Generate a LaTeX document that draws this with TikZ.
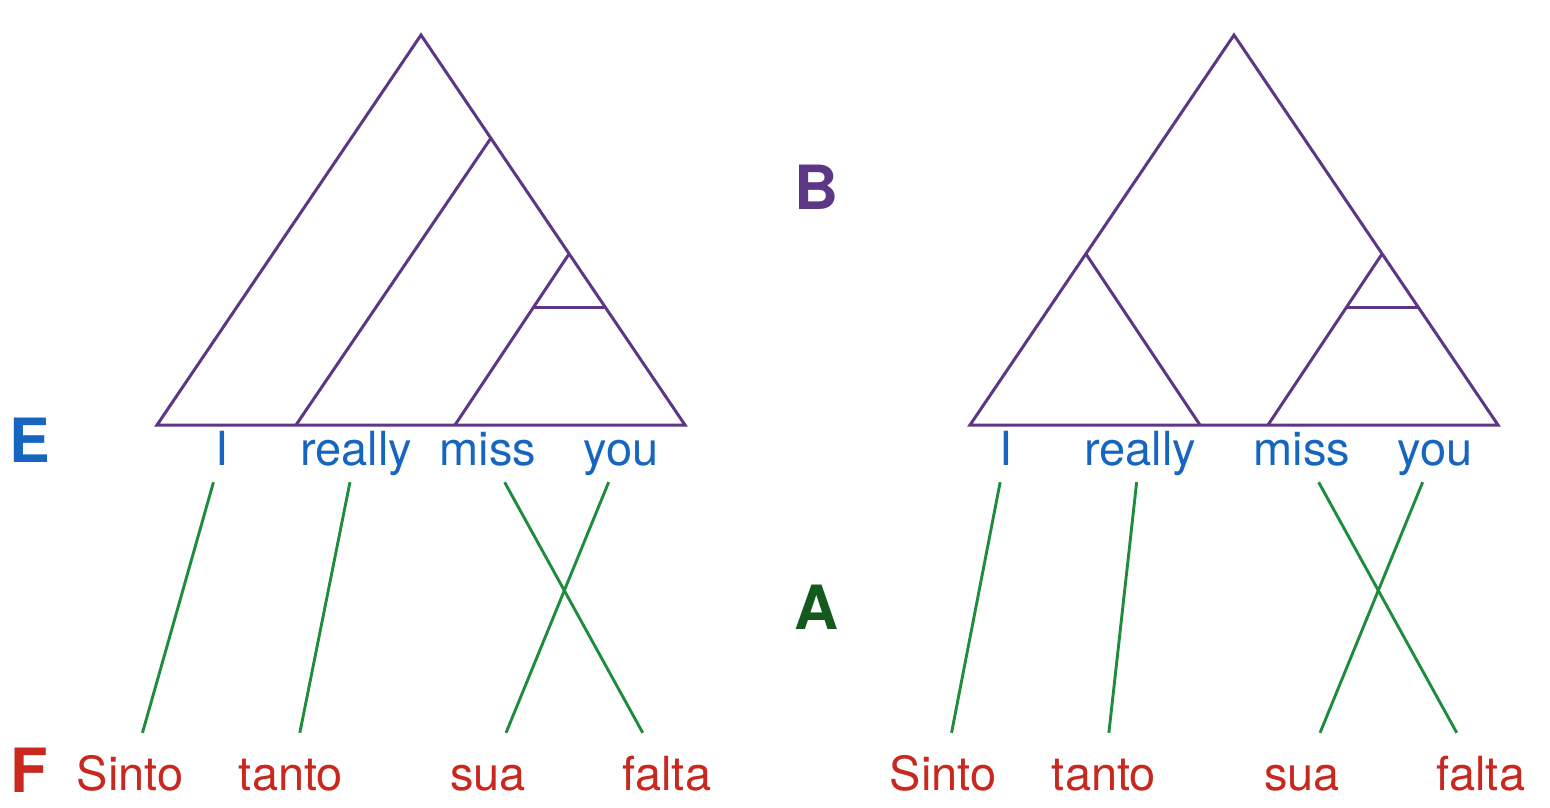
\documentclass[tikz,border=0pt]{standalone}
\usepackage{fontspec}
\setmainfont{TeX Gyre Heros}
\definecolor{treepurple}{RGB}{93,55,133}
\definecolor{wordblue}{RGB}{22,102,192}
\definecolor{transred}{RGB}{200,40,30}
\definecolor{linkgreen}{RGB}{30,140,60}
\definecolor{tagdkgreen}{RGB}{20,90,30}
\begin{document}
\begin{tikzpicture}[
  x=1pt, y=-1pt,
  every node/.style = {font=\fontsize{47}{50}\selectfont},
  tree/.style       = {draw=treepurple, line width=3pt, line join=miter},
  wrd/.style        = {text=wordblue, anchor=base, inner xsep=0pt,
                        inner ysep=7pt, text height=36pt, text depth=10pt,
                        minimum width=60pt},
  trans/.style      = {text=transred, anchor=base, inner xsep=0pt,
                        inner ysep=21pt, text height=36pt, text depth=10pt,
                        minimum width=60pt},
  link/.style       = {draw=linkgreen, line width=2.9pt},
  tag/.style        = {font=\fontsize{61}{64}\selectfont\bfseries},
]
\useasboundingbox (0,0) rectangle (1550,808);

% ── LEFT TREE ─────────────────────────────────────────────────────────────────
\draw[tree] (157,425) -- (421,35) -- (685,425) -- cycle;
\draw[tree] (491,138) -- (296,425);
\draw[tree] (569,254) -- (455,425);
\draw[tree] (533,307) -- (605,307);

% ── RIGHT TREE ────────────────────────────────────────────────────────────────
\begin{scope}[shift={(813,0)}]
  \draw[tree] (157,425) -- (421,35) -- (685,425) -- cycle;
  \draw[tree] (273,254) -- (387,425);
  \draw[tree] (569,254) -- (455,425);
  \draw[tree] (533,307) -- (605,307);
\end{scope}

% ── ENGLISH words ─────────────────────────────────────────────────────────────
\node[wrd] (lI)      at (222,465)  {I};
\node[wrd] (lreally) at (356,465)  {really};
\node[wrd] (lmiss)   at (488,465)  {miss};
\node[wrd] (lyou)    at (621,465)  {you};

\node[wrd] (rI)      at (1006,465) {I};
\node[wrd] (rreally) at (1140,465) {really};
\node[wrd] (rmiss)   at (1302,465) {miss};
\node[wrd] (ryou)    at (1435,465) {you};

% ── PORTUGUESE words ──────────────────────────────────────────────────────────
\node[trans] (lSinto) at (130,790)  {Sinto};
\node[trans] (ltanto) at (291,790)  {tanto};
\node[trans] (lsua)   at (488,790)  {sua};
\node[trans] (lfalta) at (667,790)  {falta};

\node[trans] (rSinto) at (943,790)  {Sinto};
\node[trans] (rtanto) at (1104,790) {tanto};
\node[trans] (rsua)   at (1302,790) {sua};
\node[trans] (rfalta) at (1481,790) {falta};

% ── ALIGNMENT links ───────────────────────────────────────────────────────────
\draw[link] (lI) -- (lSinto);
\draw[link] (lreally) -- (ltanto);
\draw[link] (lmiss) -- (lfalta);
\draw[link] (lyou) -- (lsua);

\draw[link] (rI) -- (rSinto);
\draw[link] (rreally) -- (rtanto);
\draw[link] (rmiss) -- (rfalta);
\draw[link] (ryou) -- (rsua);

% ── Letter tags ───────────────────────────────────────────────────────────────
\node[tag, text=wordblue]   (tagE) at (30,440)  {E};
\node[tag, text=transred]   (tagF) at (29,770)  {F};
\node[tag, text=treepurple] (tagB) at (817,187) {B};
\node[tag, text=tagdkgreen] (tagA) at (817,607) {A};

\end{tikzpicture}
\end{document}
